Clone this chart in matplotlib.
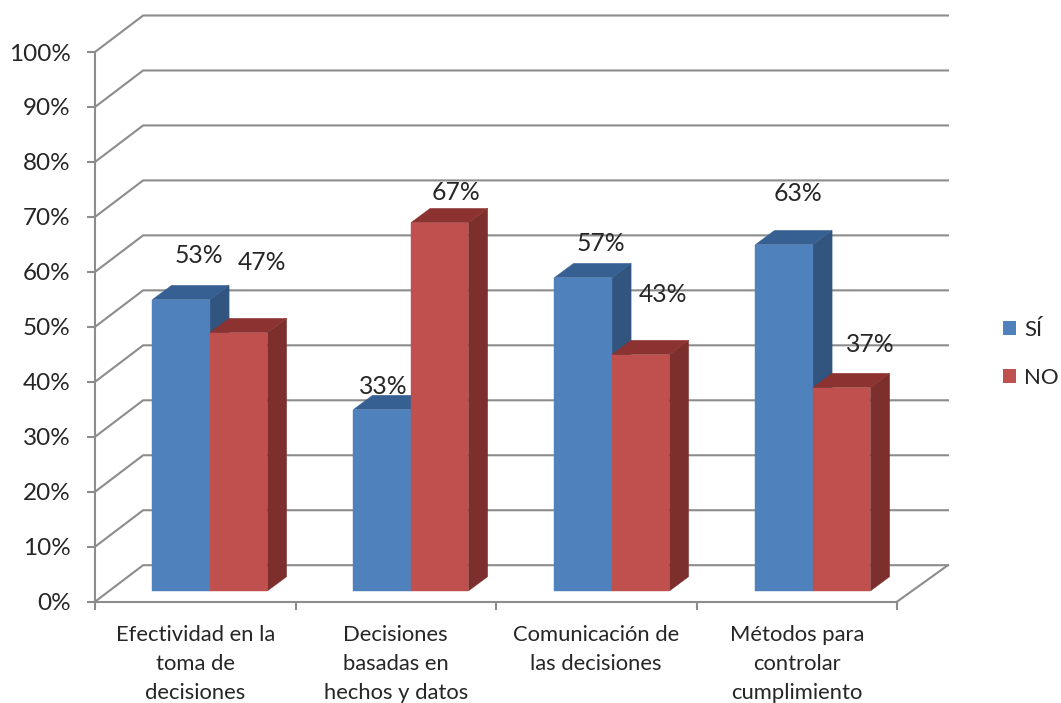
import matplotlib
matplotlib.use("Agg")
import matplotlib.pyplot as plt
from matplotlib.patches import Polygon, Patch

# ---- data ----
categories = ["Efectividad en la\ntoma de\ndecisiones",
              "Decisiones\nbasadas en\nhechos y datos",
              "Comunicación de\nlas decisiones",
              "Métodos para\ncontrolar\ncumplimiento"]
si_values = [53, 33, 57, 63]
no_values = [47, 67, 43, 37]
y_ticks = [0, 10, 20, 30, 40, 50, 60, 70, 80, 90, 100]

# ---- layout / style ----
W, H = 1061, 703
AX_L, AX_R, AX_B, AX_T = 95, 897, 601.7, 52   # pixels
WALL_DX, WALL_DY = 0.24, 6.64                  # wall offset in data units
WALL_END = 4.254
BAR_W = 0.287
BAR_START = 0.2858
GROUP_STEP = 1.0025
FLOOR_DY = 1.95
DEPTH_DX, DEPTH_DY = 0.096, 2.6
GRID = "#8c8c8c"
TEXT = "#262626"
LW = 1.5
SI_COL = ("#4F81BD", "#366092", "#31557F")
NO_COL = ("#C0504D", "#8C3231", "#7D2F2D")
# manual data-label nudges in pixels from the bar's top-front centre
SI_NUDGE = [(18, 44), (1, 23), (18, 34), (14, 51)]
NO_NUDGE = [(23, 70), (16, 30), (22, 60), (29, 43)]

plt.rcParams["font.family"] = ["Lato", "DejaVu Sans"]
fig = plt.figure(figsize=(W / 100, H / 100), dpi=100, facecolor="white")
ax = fig.add_axes([AX_L / W, 1 - AX_B / H, (AX_R - AX_L) / W, (AX_B - AX_T) / H])
ax.set_xlim(0, 4)
ax.set_ylim(0, 100)
ax.patch.set_visible(False)
for s in ("top", "right"):
    ax.spines[s].set_visible(False)
for s in ("left", "bottom"):
    ax.spines[s].set_color(GRID)
    ax.spines[s].set_linewidth(LW)
    ax.spines[s].set_zorder(2)

# walls and floor
for t in y_ticks:
    ax.plot([0, WALL_DX, WALL_END], [t, t + WALL_DY, t + WALL_DY], color=GRID,
            lw=LW, clip_on=False, zorder=1, solid_joinstyle="miter")
ax.plot([4, WALL_END], [0, WALL_DY], color=GRID, lw=LW, clip_on=False, zorder=1)

# ticks
ax.set_yticks(y_ticks)
ax.set_yticklabels([f"{t}%" for t in y_ticks], fontsize=17.5, color=TEXT)
ax.tick_params(axis="y", length=5.5, width=LW, color=GRID, pad=12)
ax.set_xticks([0, 1, 2, 3, 4])
ax.set_xticklabels([])
ax.set_xticks([0.5, 1.5, 2.5, 3.5], minor=True)
ax.set_xticklabels(categories, minor=True, fontsize=15.8, color=TEXT, linespacing=1.56)
ax.tick_params(axis="x", which="major", length=5.5, width=LW, color=GRID)
ax.tick_params(axis="x", which="minor", length=0, pad=16.5)


def bar3d(x, v, cols, z):
    y0 = FLOOR_DY
    y1 = FLOOR_DY + v
    front = [(x, y0), (x + BAR_W, y0), (x + BAR_W, y1), (x, y1)]
    top = [(x, y1), (x + BAR_W, y1), (x + BAR_W + DEPTH_DX, y1 + DEPTH_DY), (x + DEPTH_DX, y1 + DEPTH_DY)]
    side = [(x + BAR_W, y0), (x + BAR_W + DEPTH_DX, y0 + DEPTH_DY),
            (x + BAR_W + DEPTH_DX, y1 + DEPTH_DY), (x + BAR_W, y1)]
    for pts, c in zip((side, top, front), (cols[2], cols[1], cols[0])):
        ax.add_patch(Polygon(pts, closed=True, facecolor=c, edgecolor=c, lw=0.3,
                             clip_on=False, zorder=z))


for i, (s, n) in enumerate(zip(si_values, no_values)):
    x = i * GROUP_STEP + BAR_START
    bar3d(x, s, SI_COL, 3 + i * 0.1)
    bar3d(x + BAR_W, n, NO_COL, 3.05 + i * 0.1)
    for val, bx, nudge in ((s, x, SI_NUDGE[i]), (n, x + BAR_W, NO_NUDGE[i])):
        ax.annotate(f"{val}%", xy=(bx + BAR_W / 2, FLOOR_DY + val),
                    xytext=(nudge[0] * 0.72, nudge[1] * 0.72), textcoords="offset points",
                    ha="center", va="center", fontsize=17.8, color=TEXT, zorder=6,
                    annotation_clip=False)

# legend
handles = [Patch(facecolor=SI_COL[0], label="SÍ"), Patch(facecolor=NO_COL[0], label="NO")]
fig.legend(handles=handles, loc="upper left",
           bbox_to_anchor=(996 / W, 1 - 313 / H), frameon=False, fontsize=16,
           handlelength=0.62, handleheight=0.62, handletextpad=0.36,
           labelspacing=1.27, labelcolor=TEXT, borderpad=0.3, borderaxespad=0)

fig.savefig("out.png", dpi=100, facecolor="white")
